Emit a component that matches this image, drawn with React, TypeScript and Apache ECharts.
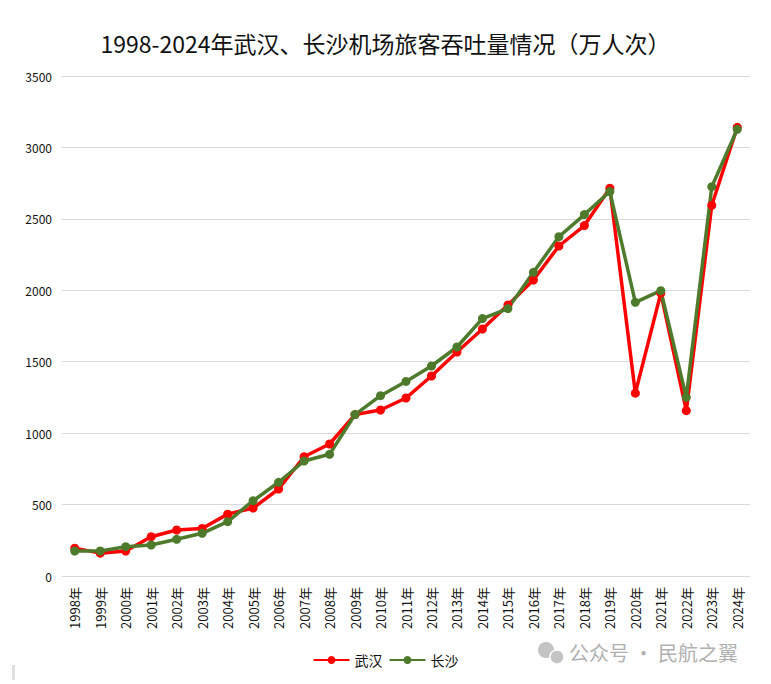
import React, { useEffect, useRef } from "react";
import * as echarts from "echarts";

const years = [
  "1998年", "1999年", "2000年", "2001年", "2002年", "2003年", "2004年", "2005年", "2006年",
  "2007年", "2008年", "2009年", "2010年", "2011年", "2012年", "2013年", "2014年", "2015年",
  "2016年", "2017年", "2018年", "2019年", "2020年", "2021年", "2022年", "2023年", "2024年",
];
const wuhan = [
  195, 160, 175, 275, 322, 333, 433, 476, 609, 835, 924, 1130, 1162, 1246, 1400, 1568, 1729,
  1897, 2072, 2310, 2453, 2715, 1280, 1980, 1157, 2595, 3141,
];
const changsha = [
  175, 175, 205, 217, 257, 299, 380, 527, 656, 805, 852, 1130, 1262, 1362, 1470, 1603, 1802,
  1872, 2126, 2375, 2530, 2691, 1916, 1997, 1251, 2725, 3127,
];
const titleText = "1998-2024年武汉、长沙机场旅客吞吐量情况（万人次）";
const watermark = "公众号 · 民航之翼";

export default function App() {
  const ref = useRef<HTMLDivElement>(null);
  useEffect(() => {
    document.body.style.margin = "0";
    const chart = echarts.init(ref.current!, null, { renderer: "svg" });
    const font = "'Noto Sans CJK SC', 'Noto Sans', sans-serif";
    chart.setOption({
      animation: false,
      backgroundColor: "#ffffff",
      textStyle: { fontFamily: font },
      title: {
        text: titleText,
        left: "center",
        top: 26,
        textStyle: { fontSize: 23, fontWeight: "normal", color: "#111", fontFamily: font },
      },
      legend: {
        bottom: 12,
        left: "center",
        itemWidth: 36,
        itemHeight: 10,
        itemGap: 6,
        textStyle: { fontSize: 14, color: "#111" },
        data: ["武汉", "长沙"],
      },
      grid: { left: 62, right: 21, top: 76, bottom: 108 },
      xAxis: {
        type: "category",
        data: years,
        boundaryGap: true,
        axisLine: { show: true, lineStyle: { color: "#d9d9d9" } },
        axisTick: { show: false },
        axisLabel: { rotate: 90, interval: 0, fontSize: 13, color: "#111", margin: 11 },
      },
      yAxis: {
        type: "value",
        min: 0,
        max: 3500,
        interval: 500,
        axisLine: { show: false },
        axisTick: { show: false },
        axisLabel: { fontSize: 12, color: "#111", margin: 10, formatter: (v: number) => String(v) },
        splitLine: { lineStyle: { color: "#d9d9d9" } },
      },
      series: [
        {
          name: "武汉",
          type: "line",
          data: wuhan,
          symbol: "circle",
          symbolSize: 9,
          itemStyle: { color: "#ff0000" },
          lineStyle: { width: 3.5, color: "#ff0000" },
        },
        {
          name: "长沙",
          type: "line",
          data: changsha,
          symbol: "circle",
          symbolSize: 9,
          itemStyle: { color: "#4e7a2c" },
          lineStyle: { width: 3.5, color: "#4e7a2c" },
        },
      ],
      graphic: [
        { type: "circle", shape: { cx: 546, cy: 650, r: 8 }, style: { fill: "#c4c4c4" } },
        { type: "circle", shape: { cx: 557, cy: 657, r: 7 }, style: { fill: "#c4c4c4", stroke: "#fff", lineWidth: 1.5 } },
        {
          type: "text",
          left: 569,
          top: 642,
          style: { text: watermark, fontSize: 20, fill: "#b0b0b0", fontFamily: font },
        },
        { type: "rect", shape: { x: 12, y: 665, width: 3, height: 15 }, style: { fill: "#e0e0e0" } },
      ],
    });
    return () => chart.dispose();
  }, []);
  return <div ref={ref} style={{ width: 771, height: 684 }} />;
}
